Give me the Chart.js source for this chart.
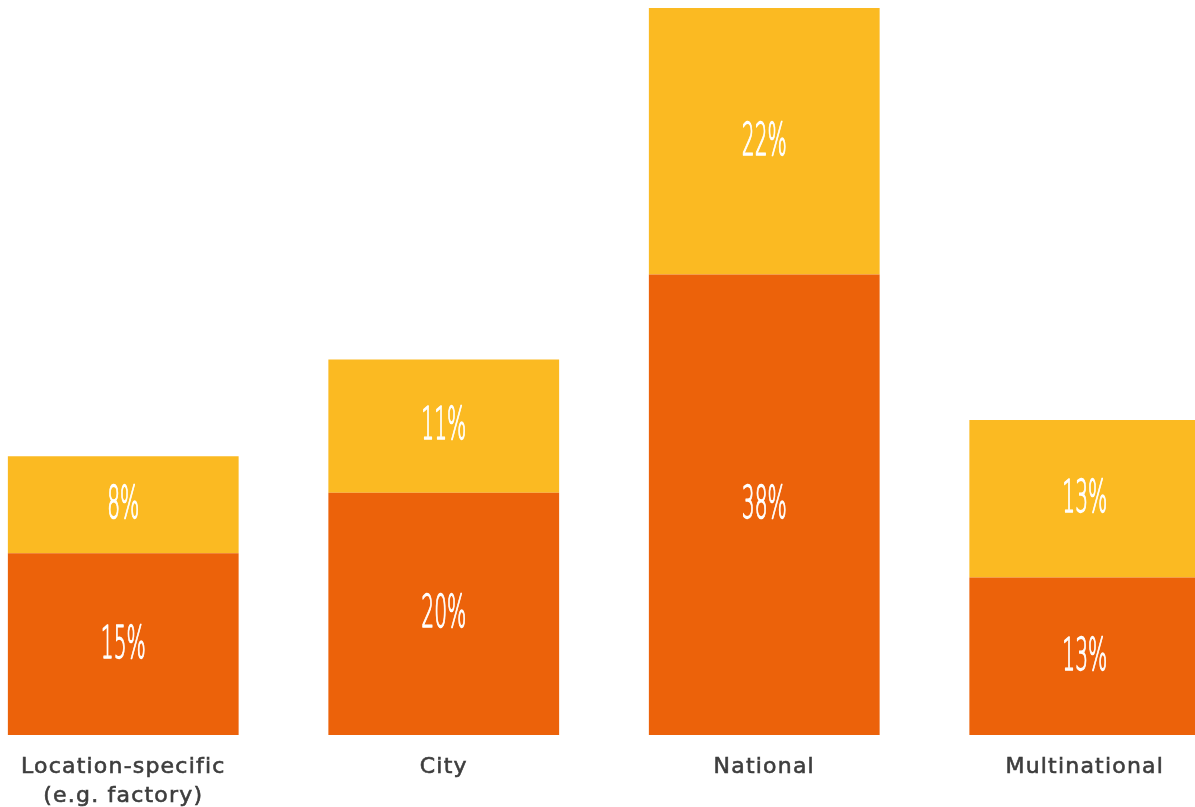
<!DOCTYPE html>
<html>
<head>
<meta charset="utf-8">
<script src="https://cdn.jsdelivr.net/npm/chart.js@4"></script>
<style>
  html, body { margin: 0; padding: 0; background: #ffffff; overflow: hidden; }
  #wrap { position: absolute; left: -37px; top: 0; width: 1282px; height: 807px; }
</style>
</head>
<body>
<div id="wrap"><canvas id="chart"></canvas></div>
<script>
// Scope of the organisation, with two stacked shares per scope
const categories = [['Location-specific', '(e.g. factory)'], 'City', 'National', 'Multinational'];
const lowerShare = [15, 20, 38, 13];
const upperShare = [8, 11, 22, 13];

const ORANGE = '#EC620A';
const YELLOW = '#FBBA22';
const LABEL_GREY = '#3d3d3d';

// Slight tracking on the category names, switched off again before the bars
const axisTracking = {
  id: 'axisTracking',
  beforeDraw(chart) { chart.ctx.letterSpacing = '1.2px'; },
  beforeDatasetsDraw(chart) { chart.ctx.letterSpacing = '0px'; }
};

// Writes each segment's percentage in a tall, narrow white face at its centre
const segmentLabels = {
  id: 'segmentLabels',
  afterDatasetsDraw(chart) {
    const ctx = chart.ctx;
    chart.data.datasets.forEach((ds, di) => {
      const meta = chart.getDatasetMeta(di);
      meta.data.forEach((bar, i) => {
        const cy = (bar.y + bar.base) / 2 + 2;
        const txt = ds.data[i] + '%';
        ctx.save();
        ctx.translate(bar.x, cy);
        ctx.scale(0.46, 1);
        ctx.fillStyle = '#ffffff';
        ctx.strokeStyle = '#ffffff';
        ctx.lineWidth = 1.3;
        ctx.lineJoin = 'round';
        ctx.font = '200 44px "DejaVu Sans", sans-serif';
        ctx.textAlign = 'center';
        ctx.textBaseline = 'middle';
        ctx.fillText(txt, 0, 0);
        ctx.strokeText(txt, 0, 0);
        ctx.restore();
      });
    });
  }
};

new Chart(document.getElementById('chart'), {
  type: 'bar',
  data: {
    labels: categories,
    datasets: [
      { label: 'Lower', data: lowerShare, backgroundColor: ORANGE },
      { label: 'Upper', data: upperShare, backgroundColor: YELLOW }
    ]
  },
  options: {
    responsive: true,
    maintainAspectRatio: false,
    animation: false,
    layout: { padding: { top: 8, left: 0, right: 0, bottom: 0 } },
    categoryPercentage: 1,
    barPercentage: 0.72,
    plugins: { legend: { display: false }, tooltip: { enabled: false } },
    scales: {
      x: {
        stacked: true,
        grid: { display: false, drawTicks: false },
        border: { display: false },
        ticks: {
          color: LABEL_GREY,
          textStrokeColor: LABEL_GREY,
          textStrokeWidth: 0.6,
          padding: 18,
          maxRotation: 0,
          autoSkip: false,
          font: { family: '"DejaVu Sans", sans-serif', size: 22, weight: 'normal', lineHeight: 1.32 }
        },
        afterFit(scale) { scale.height = 72; }
      },
      y: {
        stacked: true,
        display: false,
        min: 0,
        max: 60
      }
    }
  },
  plugins: [axisTracking, segmentLabels]
});
</script>
</body>
</html>
